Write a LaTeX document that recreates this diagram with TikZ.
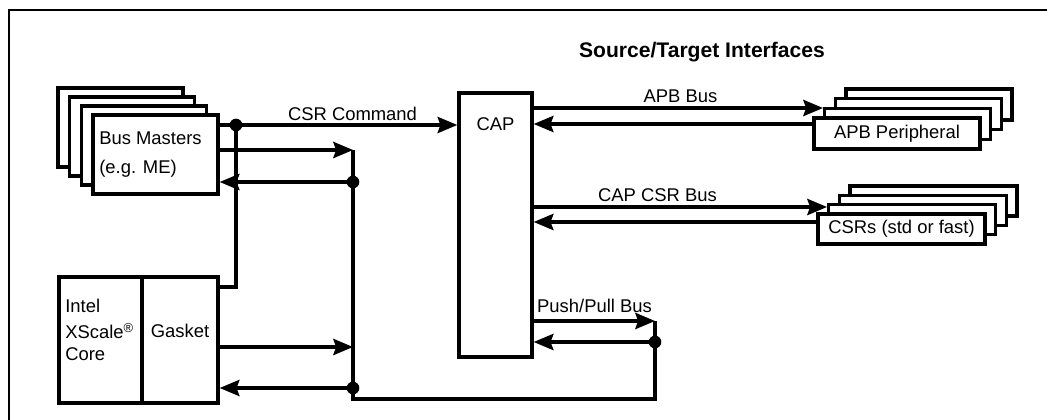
\documentclass[tikz,border=0pt]{standalone}
\usepackage{fontspec}
\setmainfont{Liberation Sans}
\usetikzlibrary{arrows.meta}

\newlength\pxu
\setlength\pxu{0.025cm}

\tikzset{
  box/.style={draw, fill=white, line width=2.4pt, inner sep=0pt},
  bus/.style={line width=2.4pt},
  arr/.style={bus, -{Stealth[length=14pt,width=11.5pt,inset=2pt]}},
  lbl/.style={inner sep=0pt, anchor=base},
}

\begin{document}
\begin{tikzpicture}[x=0.025cm, y=-0.025cm,
  every node/.style={font=\fontsize{13.1}{20.3}\selectfont}]
    \useasboundingbox (0,0) rectangle (1047,420);

    % Rahmen (nur oben und links)
    \draw[line width=1.2pt] (9,420) |- (1047,10);

    % Bus Masters, gestapelt
    \foreach \k in {3,2,1}
      \node[box, minimum width=125\pxu, minimum height=79\pxu] (bm\k) at ({155.5-11.7*\k},{154.5-9*\k}) {};
    \node[box, minimum width=125\pxu, minimum height=79\pxu] (bm) at (155.5,154.5) {};
    \node[anchor=north west, inner sep=0pt, align=left] (bmtxt) at (99,132) {Bus Masters\\(e.g. ME)};

    % XScale Core und Gasket
    \node[box, minimum width=83\pxu, minimum height=126\pxu] (core) at (100.5,340) {};
    \node[box, minimum width=76\pxu, text height=60\pxu, text depth=66\pxu, anchor=base] (gasket) at (180,337) {Gasket};
    \node[anchor=north west, inner sep=0pt, align=left, font=\fontsize{13.1}{15.3}\selectfont] (coretxt) at (65,299)
      {Intel\\[3.2pt]XScale\textsuperscript{\textregistered}\\Core};

    % CAP
    \node[box, minimum width=73\pxu, text height=38\pxu, text depth=226\pxu, anchor=base] (cap) at (495.5,131) {CAP};

    % APB Peripheral, gestapelt
    \foreach \k in {3,2,1}
      \node[box, minimum width=166\pxu, minimum height=31\pxu] (apb\k) at ({897+10.7*\k},{133.5-9.7*\k}) {};
    \node[box, minimum width=166\pxu, minimum height=31\pxu] (apb) at (897,133.5) {APB Peripheral};

    % CSRs, gestapelt
    \foreach \k in {3,2,1}
      \node[box, minimum width=167\pxu, minimum height=30\pxu] (csr\k) at ({901.5+10.7*\k},{229-9.3*\k}) {};
    \node[box, minimum width=167\pxu, minimum height=30\pxu] (csr) at (901.5,229) {CSRs (std or fast)};

    % Knotenpunkte
    \coordinate (jA) at (236,125);
    \coordinate (jB) at (353,150);
    \coordinate (jC) at (353,182);
    \coordinate (jD) at (236,287);
    \coordinate (jE) at (353,347);
    \coordinate (jF) at (353,388);
    \coordinate (jG) at (353,399);
    \coordinate (jH) at (655,399);
    \coordinate (jI) at (655,321);
    \coordinate (jJ) at (655,342);

    % linke Seite
    \draw[arr] (bm.east |- jA) -- (cap.west |- jA);
    \draw[arr] (bm.east |- jB) -- (jB);
    \draw[arr] (jC) -- (bm.east |- jC);
    \draw[bus] (jA) -- (jD) -- (gasket.east |- jD);
    \draw[arr] (gasket.east |- jE) -- (jE);
    \draw[arr] (jF) -- (gasket.east |- jF);
    \draw[bus] (jB) -- (jG) -- (jH) -- (jI);

    % Push/Pull
    \draw[arr] (cap.east |- jI) -- (jI);
    \draw[arr] (jJ) -- (cap.east |- jJ);

    % APB und CSR Bus
    \draw[arr] (cap.east |- 0,108) -- (apb1.west |- 0,108);
    \draw[arr] (apb.west |- 0,124) -- (cap.east |- 0,124);
    \draw[arr] (cap.east |- 0,207) -- (csr1.west |- 0,207);
    \draw[arr] (csr.west |- 0,222) -- (cap.east |- 0,222);

    % Punkte
    \foreach \p in {jA,jC,jF,jJ}
      \fill (\p) circle[radius=4.5pt];

    % Beschriftungen
    \node[lbl] (cmdlbl) at (352.5,120) {CSR Command};
    \node[lbl] (apblbl) at (680.5,103) {APB Bus};
    \node[lbl] (csrlbl) at (657.5,201) {CAP CSR Bus};
    \node[lbl] (pplbl) at (594.5,312) {Push/Pull Bus};
    \node[lbl, font=\fontsize{15}{18}\selectfont\bfseries] (title) at (702,58) {Source/Target Interfaces};

\end{tikzpicture}
\end{document}
